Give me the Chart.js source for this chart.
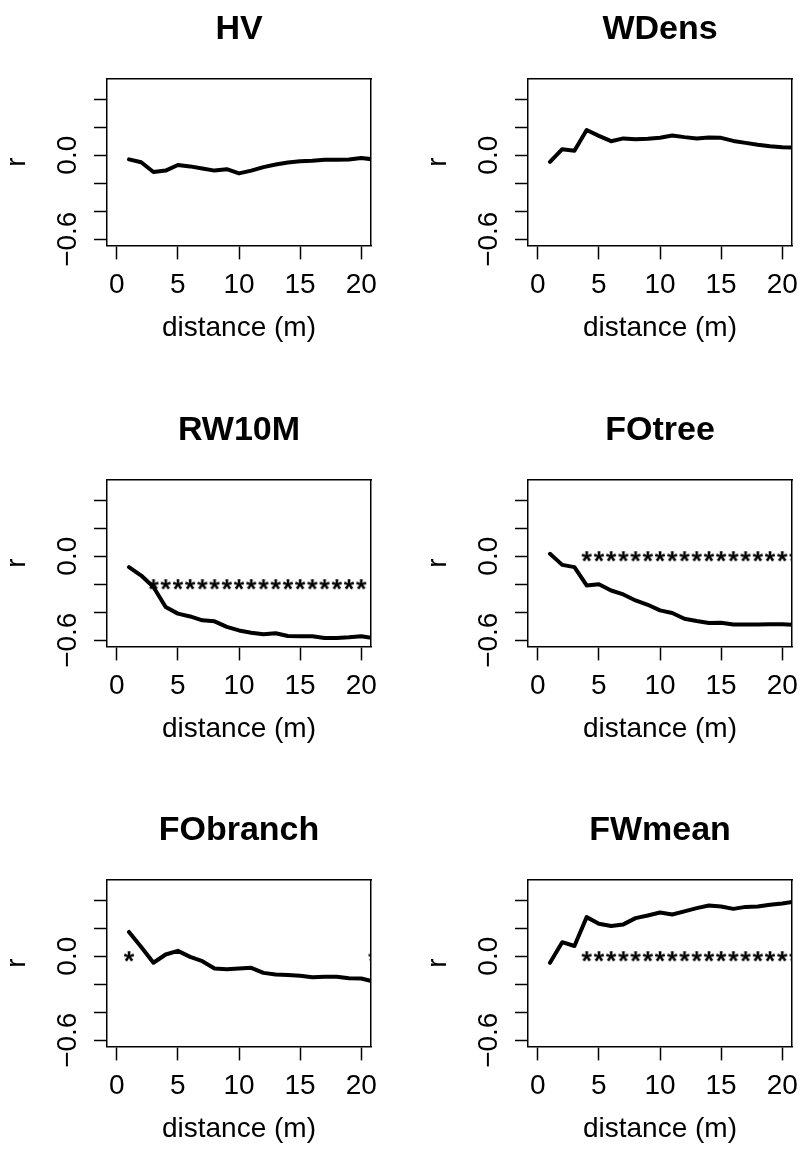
<!DOCTYPE html>
<html>
<head>
<meta charset="utf-8">
<script src="https://cdn.jsdelivr.net/npm/chart.js@4.4.1/dist/chart.umd.min.js"></script>
<style>
body { margin:0; background:#fff; width:803px; height:1153px; overflow:hidden; position:relative; }
canvas { position:absolute; }
</style>
</head>
<body>
<canvas id="hv" width="380" height="400" style="left:0px;top:0px"></canvas>
<canvas id="wdens" width="380" height="400" style="left:421px;top:0px"></canvas>
<canvas id="rw10m" width="380" height="400" style="left:0px;top:401px"></canvas>
<canvas id="fotree" width="380" height="400" style="left:421px;top:401px"></canvas>
<canvas id="fobranch" width="380" height="400" style="left:0px;top:801px"></canvas>
<canvas id="fwmean" width="380" height="400" style="left:421px;top:801px"></canvas>
<script>
// distance classes (m)
const distance = [1,2,3,4,5,6,7,8,9,10,11,12,13,14,15,16,17,18,19,20,21];

// correlation r per distance, one array per variable
const hv = [-0.03,-0.05,-0.12,-0.11,-0.07,-0.08,-0.095,-0.11,-0.10,-0.13,-0.11,-0.085,-0.067,-0.052,-0.043,-0.04,-0.033,-0.033,-0.03,-0.02,-0.03];
const wdens = [-0.048,0.043,0.031,0.18,0.138,0.10,0.12,0.114,0.117,0.124,0.14,0.129,0.12,0.126,0.124,0.102,0.088,0.074,0.064,0.057,0.055];
const rw10m = [-0.078,-0.138,-0.22,-0.363,-0.41,-0.43,-0.458,-0.465,-0.505,-0.53,-0.546,-0.558,-0.55,-0.57,-0.572,-0.572,-0.584,-0.584,-0.579,-0.572,-0.585];
const fotree = [0.017,-0.062,-0.078,-0.209,-0.20,-0.245,-0.273,-0.316,-0.347,-0.387,-0.406,-0.447,-0.463,-0.477,-0.475,-0.487,-0.487,-0.487,-0.485,-0.485,-0.49];
const fobranch = [0.173,0.066,-0.047,0.012,0.038,-0.005,-0.036,-0.088,-0.093,-0.088,-0.083,-0.119,-0.13,-0.135,-0.14,-0.15,-0.147,-0.147,-0.157,-0.159,-0.18];
const fwmean = [-0.047,0.10,0.073,0.279,0.232,0.215,0.227,0.272,0.291,0.312,0.298,0.32,0.343,0.362,0.355,0.338,0.352,0.355,0.367,0.376,0.39];

// significant distances (asterisks) and the level they are printed at
const rw10mStars = [3,4,5,6,7,8,9,10,11,12,13,14,15,16,17,18,19,20];
const fotreeStars = [4,5,6,7,8,9,10,11,12,13,14,15,16,17,18,19,20,21];
const fobranchStars = [1,21];
const fwmeanStars = [4,5,6,7,8,9,10,11,12,13,14,15,16,17,18,19,20,21];

// axis ticks
const xTicks = [0,5,10,15,20];
const xTickLabels = ['0','5','10','15','20'];
const yTicks = [-0.6,-0.4,-0.2,0,0.2,0.4];
const yTickLabels = ['\u22120.6','','','0.0','',''];

const FONT = '"Liberation Sans", Arial, sans-serif';
Chart.defaults.font.family = FONT;
Chart.defaults.color = '#000';

// "*" glyph used as point style
function starImage() {
  const c = document.createElement('canvas');
  c.width = 24; c.height = 24;
  const g = c.getContext('2d');
  g.font = 'bold 27px ' + FONT;
  g.textAlign = 'center';
  g.fillStyle = '#000';
  const m = g.measureText('*');
  g.fillText('*', 12, 12 + (m.actualBoundingBoxAscent - m.actualBoundingBoxDescent) / 2);
  return c;
}
const star = starImage();

const frame = {display:true, color:'#000', width:1.5};

function panel(id, title, values, starX, starLevel) {
  const datasets = [{
    type: 'line',
    data: distance.map((d, i) => ({x: d, y: values[i]})),
    borderColor: '#000',
    borderWidth: 4,
    borderCapStyle: 'round',
    borderJoinStyle: 'round',
    pointRadius: 0,
    tension: 0,
    clip: 0,
    xAxisID: 'x', yAxisID: 'y'
  }];
  if (starX.length) {
    datasets.push({
      type: 'scatter',
      data: starX.map(d => ({x: d, y: starLevel})),
      pointStyle: star,
      pointRadius: 5,
      clip: 0,
      xAxisID: 'x', yAxisID: 'y'
    });
  }
  new Chart(id, {
    type: 'scatter',
    data: {datasets: datasets},
    options: {
      responsive: false,
      animation: false,
      layout: {padding: {left: 0, right: 9, top: 0, bottom: 0}},
      plugins: {legend: {display: false}, tooltip: {enabled: false}},
      scales: {
        x: {
          type: 'linear', position: 'bottom', min: -0.8, max: 20.8,
          afterBuildTicks: s => { s.ticks = xTicks.map(v => ({value: v})); },
          afterFit: s => { s.height = 154.6; s.paddingLeft = 0; s.paddingRight = 0; },
          ticks: {autoSkip: false, maxRotation: 0, padding: 9.5, font: {size: 28},
                  callback: (v, i) => xTickLabels[i]},
          grid: {display: true, drawOnChartArea: false, drawTicks: true, tickLength: 14, tickColor: '#000', tickWidth: 1.5},
          border: frame,
          title: {display: true, text: 'distance (m)', font: {size: 28}, padding: {top: 0, bottom: 54.5}}
        },
        x2: {
          type: 'linear', position: 'top',
          afterFit: s => { s.height = 79; s.paddingLeft = 0; s.paddingRight = 0; },
          ticks: {display: false},
          grid: {display: false},
          border: frame,
          title: {display: true, text: title, font: {size: 34, weight: 'bold'}, padding: {top: 9, bottom: 0}}
        },
        y: {
          type: 'linear', position: 'left', min: -0.644, max: 0.544,
          afterBuildTicks: s => { s.ticks = yTicks.map(v => ({value: v})); },
          afterFit: s => { s.width = 107; s.paddingTop = 0; s.paddingBottom = 0; },
          ticks: {autoSkip: false, minRotation: 90, maxRotation: 90, crossAlign: 'center', padding: -2,
                  font: {size: 28}, callback: (v, i) => yTickLabels[i]},
          grid: {display: true, drawOnChartArea: false, drawTicks: true, tickLength: 13, tickColor: '#000', tickWidth: 1.5},
          border: frame,
          title: {display: true, text: 'r', font: {size: 28}, padding: {top: 0, bottom: 0}}
        },
        y2: {
          type: 'linear', position: 'right',
          afterFit: s => { s.width = 0; s.paddingTop = 0; s.paddingBottom = 0; },
          ticks: {display: false},
          grid: {display: false},
          border: frame
        }
      }
    }
  });
}

panel('hv', 'HV', hv, [], 0);
panel('wdens', 'WDens', wdens, [], 0);
panel('rw10m', 'RW10M', rw10m, rw10mStars, -0.2);
panel('fotree', 'FOtree', fotree, fotreeStars, 0);
panel('fobranch', 'FObranch', fobranch, fobranchStars, 0);
panel('fwmean', 'FWmean', fwmean, fwmeanStars, 0);
</script>
</body>
</html>
